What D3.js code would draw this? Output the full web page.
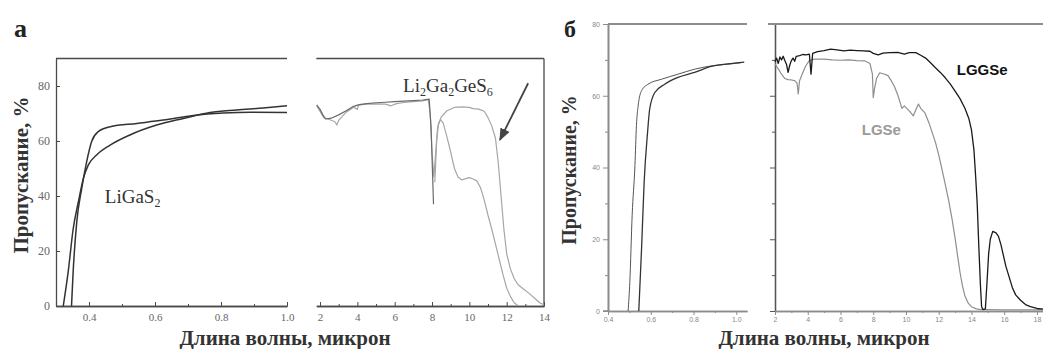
<!DOCTYPE html>
<html>
<head>
<meta charset="utf-8">
<script src="https://cdn.jsdelivr.net/npm/d3@7"></script>
<style>
  body { margin: 0; background: #fff; }
  svg { display: block; }
</style>
</head>
<body>
<svg id="chart" width="1043" height="349"></svg>
<script>
// ---- panel a, left part (UV/vis): two LiGaS2 curves
const ligasA = [[0.322,0],[0.337,12.5],[0.352,28],[0.368,38],[0.383,46.4],[0.398,51.3],[0.423,54.9],
  [0.464,58.5],[0.524,62.2],[0.605,65.8],[0.686,68.2],[0.767,70.4],[0.848,71.3],[0.928,72.0],[1.0,72.8]];
const ligasB = [[0.347,0],[0.352,12.5],[0.363,30.7],[0.378,42.8],[0.393,52.5],[0.408,59.8],[0.428,63.4],
  [0.464,65.2],[0.545,66.4],[0.625,67.6],[0.716,69.3],[0.807,70.2],[0.888,70.5],[1.0,70.4]];

// ---- panel a, right part (IR)
const irDark = [[1.82,73.1],[2.0,71.5],[2.15,69.5],[2.3,68.0],[2.6,68.3],[3.0,69.5],[3.4,71.0],[3.8,72.6],
  [4.1,73.2],[4.5,73.6],[5.0,73.9],[5.5,74.1],[6.0,74.3],[6.5,74.5],[7.0,74.7],[7.5,74.9],[7.85,75.2],
  [7.95,65],[8.02,50],[8.08,37]];
const irLight1 = [[1.82,72.8],[2.2,68.5],[2.5,67.8],[2.8,67.0],[2.9,65.8],[3.0,67.5],[3.4,70.5],[3.8,72.3],
  [4.0,71.5],[4.05,73.0],[4.5,73.4],[5.0,73.5],[5.5,73.4],[5.8,72.8],[6.1,73.6],[6.5,74.0],[7.0,74.3],
  [7.5,74.6],[7.8,75.0],[7.9,70],[8.0,56],[8.1,47],[8.2,56],[8.3,65],[8.5,68.8],[8.8,71.0],[9.2,72.2],
  [9.6,72.4],[10.0,72.2],[10.2,71.8],[10.5,71.6],[10.8,70.8],[11.0,68.5],[11.2,65.5],[11.4,61],[11.55,52],
  [11.7,40],[11.85,28],[12.0,19],[12.2,13.5],[12.4,10],[12.6,7.8],[12.9,6.2],[13.2,4.6],[13.5,2.8],
  [13.8,1.0],[14.0,0.5]];
const irLight2 = [[8.15,45],[8.25,60],[8.35,66.5],[8.45,67.8],[8.6,66.5],[8.8,61.5],[9.0,56],[9.2,50],
  [9.4,46.8],[9.6,45.8],[9.8,46.3],[10.0,46.7],[10.2,46.2],[10.4,45.5],[10.6,43],[10.8,38.5],[11.0,33],
  [11.2,28],[11.4,22.5],[11.6,17],[11.8,11.5],[12.0,6.5],[12.2,3.5],[12.4,1.2],[12.6,0.2]];

// ---- panel б, left part
const visLGSe = [[0.494,0],[0.502,8],[0.513,26.7],[0.526,40.6],[0.533,51.7],[0.541,57.2],[0.557,61.4],
  [0.587,63.2],[0.65,64.6],[0.727,66.0],[0.805,67.4],[0.882,68.3],[0.96,68.8],[1.022,69.2]];
const visLGGSe = [[0.544,0],[0.557,17.4],[0.569,35.9],[0.585,49.8],[0.595,56.3],[0.619,60.9],[0.665,63.2],
  [0.727,65.1],[0.805,66.5],[0.882,68.2],[0.96,68.9],[1.037,69.4]];

// ---- panel б, right part
const irLGGSe = [[2.0,69.5],[2.1,70.5],[2.2,69.0],[2.3,70.8],[2.4,70.0],[2.5,71.0],[2.6,69.8],[2.7,68.8],
  [2.8,66.5],[2.9,68.5],[3.0,69.8],[3.1,70.5],[3.2,69.6],[3.3,71.0],[3.5,71.2],[3.7,71.5],[3.9,71.4],
  [4.1,71.6],[4.2,66.0],[4.3,71.8],[4.6,72.3],[5.0,72.6],[5.4,73.0],[5.8,72.8],[6.2,72.5],[6.6,72.7],
  [7.0,72.6],[7.4,72.5],[7.8,72.4],[8.0,71.8],[8.3,71.4],[8.6,71.9],[9.0,72.0],[9.5,72.1],[9.9,71.6],
  [10.2,72.0],[10.6,72.0],[10.9,71.3],[11.2,70.5],[11.5,69.2],[11.8,67.8],[12.1,66.5],[12.4,65.0],
  [12.7,63.3],[13.0,61.3],[13.3,59.2],[13.6,56.5],[13.85,53.5],[14.0,50.5],[14.15,45],[14.25,38],
  [14.35,30],[14.45,18],[14.55,7],[14.62,1.2],[14.7,0.4],[14.85,0.6],[14.95,8],[15.05,16],[15.15,20],
  [15.3,22.2],[15.5,21.8],[15.65,20.8],[15.8,18.5],[15.95,15.5],[16.1,12.5],[16.3,9.5],[16.5,6.5],
  [16.7,4.5],[17.0,3.0],[17.3,1.8],[17.6,1.2],[18.0,0.7],[18.37,0.5]];
const irLGSe = [[2.0,68.8],[2.2,67.5],[2.4,66.0],[2.6,64.8],[2.8,64.5],[3.0,64.4],[3.2,64.2],[3.35,63.5],
  [3.42,60.5],[3.5,64.2],[3.7,66.5],[3.9,68.5],[4.1,69.8],[4.4,70.2],[5.0,70.2],[5.5,70.0],[6.0,69.9],
  [6.5,70.0],[7.0,69.8],[7.5,69.7],[7.8,69.0],[7.95,66.0],[8.0,59.5],[8.08,62],[8.2,64.8],[8.4,66.4],
  [8.7,66.0],[8.9,65.6],[9.1,64.2],[9.3,62.5],[9.5,60.2],[9.65,58.0],[9.75,56.5],[9.9,57.2],[10.05,56.5],
  [10.2,55.8],[10.45,54.4],[10.6,56.0],[10.76,57.7],[10.9,56.5],[11.16,55.2],[11.4,52.5],[11.6,49.8],
  [11.8,47.0],[12.0,43.5],[12.2,39.5],[12.4,35.3],[12.6,31.0],[12.8,26.0],[13.0,20.3],[13.15,15.5],
  [13.3,10.8],[13.45,7],[13.6,4.2],[13.8,2.2],[14.0,1.2],[14.3,0.6],[14.6,0.4],[15.0,0.4],[16.0,0.3],
  [17.0,0.3],[18.37,0.3]];

// ticks
const ticksA_y = [0, 20, 40, 60, 80];
const ticksA_x1 = [0.4, 0.6, 0.8, 1.0];
const minorA_x1 = [0.5, 0.7, 0.9];
const ticksA_x2 = [2, 4, 6, 8, 10, 12, 14];
const minorA_x2 = [3, 5, 7, 9, 11, 13];
const ticksB_y = [0, 20, 40, 60, 80];
const minorB_y = [10, 30, 50, 70];
const ticksB_x1 = [0.4, 0.6, 0.8, 1.0];
const minorB_x1 = [0.5, 0.7, 0.9];
const ticksB_x2 = [2, 4, 6, 8, 10, 12, 14, 16, 18];
const minorB_x2 = [3, 5, 7, 9, 11, 13, 15, 17];

const svg = d3.select("#chart");

// scales
const yA = d3.scaleLinear().domain([0, 90]).range([306, 58.5]);
const xA1 = d3.scaleLinear().domain([0.3, 1.0]).range([56, 287]);
const xA2 = d3.scaleLinear().domain([1.8, 14]).range([316.3, 544]);

const yB = d3.scaleLinear().domain([0, 80]).range([311, 24]);
const xB1 = d3.scaleLinear().domain([0.4, 1.05]).range([608, 747]);
const xB2 = d3.scaleLinear().domain([2, 18.37]).range([775, 1043]);

const serif = '"Liberation Serif", "Times New Roman", serif';
const sans = '"Liberation Sans", Arial, sans-serif';
const axA = "#4a4a4a";
const axB = "#8c8c8c";

function hline(x1, x2, y, color, w) {
  svg.append("line").attr("x1", x1).attr("x2", x2).attr("y1", y).attr("y2", y)
    .attr("stroke", color).attr("stroke-width", w);
}
function vline(x, y1, y2, color, w) {
  svg.append("line").attr("x1", x).attr("x2", x).attr("y1", y1).attr("y2", y2)
    .attr("stroke", color).attr("stroke-width", w);
}

// draws an axis, styles it; labels=false drops the tick texts (minor ticks)
function axis(gen, tr, color, w, font, size, fill, labels) {
  const g = svg.append("g").attr("transform", tr).call(gen);
  g.select(".domain").attr("stroke", color).attr("stroke-width", w);
  g.selectAll(".tick line").attr("stroke", color).attr("stroke-width", 1);
  if (labels) {
    g.selectAll(".tick text").attr("font-family", font).attr("font-size", size).attr("fill", fill);
  } else {
    g.selectAll(".tick text").remove();
  }
  return g;
}

function drawCurve(data, x, y, color, w, curve) {
  const line = d3.line().x(d => x(d[0])).y(d => y(d[1])).curve(curve || d3.curveLinear);
  svg.append("path").datum(data).attr("d", line)
    .attr("fill", "none").attr("stroke", color).attr("stroke-width", w)
    .attr("stroke-linejoin", "round");
}

// ===== panel a =====
// left part
axis(d3.axisBottom(xA1).tickValues(ticksA_x1).tickFormat(d3.format(".1f")).tickSize(-4).tickSizeOuter(0).tickPadding(7),
  "translate(0,306)", axA, 1.3, serif, 11, "#666", true);
axis(d3.axisBottom(xA1).tickValues(minorA_x1).tickSize(-2).tickSizeOuter(0),
  "translate(0,306)", axA, 1.3, serif, 11, "#666", false);
axis(d3.axisLeft(yA).tickValues(ticksA_y).tickSize(-4).tickSizeOuter(0).tickPadding(6),
  "translate(56,0)", axA, 1.3, serif, 12, "#666", true);
hline(56, 287, 58.5, axA, 1.3);

// right part
axis(d3.axisBottom(xA2).tickValues(ticksA_x2).tickSize(-4).tickSizeOuter(0).tickPadding(7),
  "translate(0,306)", axA, 1.3, serif, 11, "#666", true);
axis(d3.axisBottom(xA2).tickValues(minorA_x2).tickSize(-2).tickSizeOuter(0),
  "translate(0,306)", axA, 1.3, serif, 11, "#666", false);
hline(316.3, 544, 58.5, axA, 1.3);
vline(544, 58.5, 306, axA, 1.3);

drawCurve(ligasA, xA1, yA, "#333", 1.5, d3.curveMonotoneX);
drawCurve(ligasB, xA1, yA, "#333", 1.5, d3.curveMonotoneX);
drawCurve(irLight1, xA2, yA, "#a6a6a6", 1.2);
drawCurve(irLight2, xA2, yA, "#a6a6a6", 1.2);
drawCurve(irDark, xA2, yA, "#6a6a6a", 1.2);

// labels panel a
const ligasLbl = svg.append("text").attr("x", xA1(0.448)).attr("y", yA(37.5))
  .attr("font-family", serif).attr("font-size", 19).attr("fill", "#333");
ligasLbl.append("tspan").text("LiGaS");
ligasLbl.append("tspan").attr("font-size", 12).attr("dy", 4).text("2");

const lggsLbl = svg.append("text").attr("x", xA2(6.45)).attr("y", yA(77.8))
  .attr("font-family", serif).attr("font-size", 19).attr("fill", "#333");
lggsLbl.append("tspan").text("Li");
lggsLbl.append("tspan").attr("font-size", 12).attr("dy", 4).text("2");
lggsLbl.append("tspan").attr("dy", -4).text("Ga");
lggsLbl.append("tspan").attr("font-size", 12).attr("dy", 4).text("2");
lggsLbl.append("tspan").attr("dy", -4).text("GeS");
lggsLbl.append("tspan").attr("font-size", 12).attr("dy", 4).text("6");

svg.append("defs").append("marker").attr("id", "arr").attr("viewBox", "0 0 10 10")
  .attr("refX", 9).attr("refY", 5).attr("markerWidth", 7).attr("markerHeight", 7)
  .attr("orient", "auto").append("path").attr("d", "M0,1 L10,5 L0,9 z").attr("fill", "#444");
svg.append("line").attr("x1", xA2(13.15)).attr("y1", yA(81)).attr("x2", xA2(11.64)).attr("y2", yA(60.4))
  .attr("stroke", "#444").attr("stroke-width", 1.8).attr("marker-end", "url(#arr)");

svg.append("text").attr("x", 14).attr("y", 37).attr("font-family", serif).attr("font-weight", "bold")
  .attr("font-size", 26).attr("fill", "#222").text("а");
svg.append("text").attr("transform", "translate(28,175) rotate(-90)").attr("text-anchor", "middle")
  .attr("font-family", serif).attr("font-weight", "bold").attr("font-size", 21).attr("fill", "#333")
  .text("Пропускание, %");
svg.append("text").attr("x", 285).attr("y", 345).attr("text-anchor", "middle")
  .attr("font-family", serif).attr("font-weight", "bold").attr("font-size", 21).attr("fill", "#333")
  .text("Длина волны, микрон");

// ===== panel б =====
axis(d3.axisLeft(yB).tickValues(ticksB_y).tickSize(5).tickSizeOuter(0).tickPadding(3),
  "translate(608,0)", axB, 1.6, sans, 7, "#888", true);
axis(d3.axisLeft(yB).tickValues(minorB_y).tickSize(3).tickSizeOuter(0),
  "translate(608,0)", axB, 1.6, sans, 7, "#888", false);
axis(d3.axisBottom(xB1).tickValues(ticksB_x1).tickFormat(d3.format(".1f")).tickSize(4).tickSizeOuter(0).tickPadding(2),
  "translate(0,311)", axB, 1.6, sans, 7, "#888", true);
axis(d3.axisBottom(xB1).tickValues(minorB_x1).tickSize(2).tickSizeOuter(0),
  "translate(0,311)", axB, 1.6, sans, 7, "#888", false);
hline(603, 608, 311, axB, 1.6);
hline(608, 747, 24, axB, 2);

axis(d3.axisLeft(yB).tickValues(ticksB_y).tickSize(5).tickSizeOuter(0),
  "translate(775,0)", "#555", 1.3, sans, 7, "#888", false);
axis(d3.axisLeft(yB).tickValues(minorB_y).tickSize(3).tickSizeOuter(0),
  "translate(775,0)", "#555", 1.3, sans, 7, "#888", false);
axis(d3.axisBottom(xB2).tickValues(ticksB_x2).tickSize(4).tickSizeOuter(0).tickPadding(2),
  "translate(0,311)", axB, 1.6, sans, 7, "#888", true);
axis(d3.axisBottom(xB2).tickValues(minorB_x2).tickSize(2).tickSizeOuter(0),
  "translate(0,311)", axB, 1.6, sans, 7, "#888", false);
hline(768, 1043, 24, axB, 2);

drawCurve(visLGSe, xB1, yB, "#555", 1, d3.curveMonotoneX);
drawCurve(visLGGSe, xB1, yB, "#333", 1.3, d3.curveMonotoneX);
drawCurve(irLGSe, xB2, yB, "#8e8e8e", 1.2);
drawCurve(irLGGSe, xB2, yB, "#1a1a1a", 1.3);

svg.append("text").attr("x", xB2(13.1)).attr("y", yB(65.8)).attr("font-family", sans)
  .attr("font-weight", "bold").attr("font-size", 15).attr("fill", "#111").text("LGGSe");
svg.append("text").attr("x", xB2(7.3)).attr("y", yB(49)).attr("font-family", sans)
  .attr("font-weight", "bold").attr("font-size", 15).attr("fill", "#9a9a9a").text("LGSe");

svg.append("text").attr("x", 564).attr("y", 37).attr("font-family", serif).attr("font-weight", "bold")
  .attr("font-size", 24).attr("fill", "#222").text("б");
svg.append("text").attr("transform", "translate(576,170) rotate(-90)").attr("text-anchor", "middle")
  .attr("font-family", serif).attr("font-weight", "bold").attr("font-size", 20).attr("fill", "#333")
  .text("Пропускание, %");
svg.append("text").attr("x", 824).attr("y", 345).attr("text-anchor", "middle")
  .attr("font-family", serif).attr("font-weight", "bold").attr("font-size", 21).attr("fill", "#333")
  .text("Длина волны, микрон");
</script>
</body>
</html>
